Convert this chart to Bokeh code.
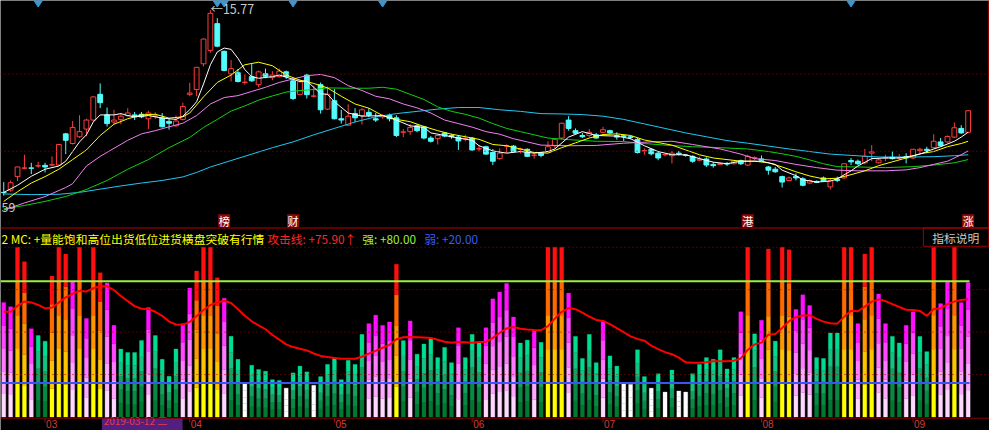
import numpy as np
from bokeh.plotting import figure
from bokeh.models import Range1d, Span
from bokeh.core.properties import value
from bokeh.embed import file_html
from bokeh.resources import INLINE

FONT = "Noto Sans CJK SC"
AXIS_FONT = "Liberation Sans"

# ---------------- daily candles (bar index 0 = 2019-02-21) ----------------
OPEN = [10.10, 10.17, 10.59, 10.85, 10.86, 10.92, 10.94, 10.95, 10.95, 11.92,
        11.62, 11.83, 12.07, 12.35, 13.15, 12.51, 12.29, 12.37, 12.49, 12.51,
        12.53, 12.39, 12.47, 12.42, 12.31, 12.17, 12.37, 13.15, 13.30, 14.10,
        14.52, 15.35, 14.49, 13.79, 13.82, 13.52, 13.70, 13.45, 13.79, 13.67,
        13.70, 13.85, 13.57, 13.15, 13.75, 13.09, 13.45, 12.69, 12.95, 12.39,
        12.19, 12.55, 12.49, 12.59, 12.39, 12.45, 12.49, 12.42, 11.97, 11.99,
        12.17, 12.14, 11.79, 11.77, 11.95, 11.87, 11.82, 11.77, 11.79, 11.45,
        11.52, 11.34, 11.15, 11.54, 11.54, 11.44, 11.44, 11.25, 11.32, 11.37,
        11.55, 11.79, 12.35, 12.02, 11.87, 11.87, 11.89, 11.97, 12.02, 11.87,
        11.86, 11.83, 11.75, 11.39, 11.44, 11.32, 11.27, 11.24, 11.32, 11.26,
        11.22, 11.10, 11.14, 10.97, 10.97, 11.00, 10.99, 11.09, 10.95, 11.17,
        11.14, 10.89, 10.82, 10.59, 10.47, 10.59, 10.52, 10.39, 10.44, 10.55,
        10.27, 10.51, 10.55, 11.09, 11.07, 11.02, 11.32, 11.02, 11.17, 11.19,
        11.17, 11.21, 11.17, 11.40, 11.44, 11.49, 11.67, 11.67, 11.82, 12.09,
        11.97]
HIGH = [10.42, 10.47, 10.90, 11.27, 11.02, 11.05, 11.02, 11.22, 11.59, 11.95,
        12.32, 12.50, 12.39, 13.09, 13.49, 12.74, 12.67, 12.57, 12.72, 12.60,
        12.60, 12.64, 12.59, 12.57, 12.39, 12.49, 12.89, 13.51, 14.00, 14.89,
        15.77, 15.52, 14.51, 14.22, 13.94, 13.77, 14.09, 13.89, 13.95, 13.87,
        13.95, 13.89, 13.64, 13.62, 13.79, 13.42, 13.52, 13.39, 13.32, 12.67,
        12.84, 12.72, 12.72, 12.72, 12.57, 12.53, 12.55, 12.50, 12.07, 12.22,
        12.22, 12.17, 11.85, 11.89, 11.97, 11.92, 11.87, 11.89, 11.82, 11.57,
        11.55, 11.45, 11.47, 11.59, 11.57, 11.49, 11.47, 11.32, 11.34, 11.69,
        11.77, 12.27, 12.47, 12.09, 11.95, 12.07, 11.95, 12.14, 12.05, 11.97,
        11.89, 11.87, 11.79, 11.47, 11.47, 11.37, 11.29, 11.39, 11.39, 11.29,
        11.25, 11.21, 11.19, 11.04, 11.02, 11.04, 11.09, 11.12, 11.27, 11.22,
        11.25, 10.92, 10.89, 10.62, 10.59, 10.69, 10.57, 10.50, 10.47, 10.59,
        10.52, 10.59, 11.00, 11.17, 11.12, 11.45, 11.57, 11.15, 11.27, 11.37,
        11.29, 11.32, 11.45, 11.49, 11.52, 11.91, 11.79, 11.87, 12.27, 12.19,
        12.65]
LOW = [10.00, 10.12, 10.45, 10.82, 10.67, 10.87, 10.72, 10.91, 10.92, 11.29,
       11.59, 11.79, 11.85, 12.32, 12.72, 12.15, 12.22, 12.22, 12.45, 12.35,
       12.41, 12.07, 12.39, 12.12, 12.05, 12.14, 12.34, 13.09, 13.09, 14.02,
       14.45, 14.62, 13.87, 13.55, 13.52, 13.45, 13.54, 13.37, 13.65, 13.59,
       13.67, 13.63, 12.97, 13.12, 13.02, 13.05, 12.55, 12.67, 12.37, 12.24,
       12.17, 12.29, 12.21, 12.44, 12.29, 12.39, 12.31, 11.82, 11.82, 11.89,
       11.97, 11.75, 11.65, 11.59, 11.82, 11.77, 11.42, 11.69, 11.39, 11.37,
       11.27, 10.95, 11.12, 11.32, 11.34, 11.31, 11.20, 11.15, 11.19, 11.35,
       11.47, 11.75, 12.02, 11.92, 11.79, 11.82, 11.77, 11.95, 11.92, 11.74,
       11.69, 11.75, 11.31, 11.27, 11.25, 11.10, 11.22, 11.00, 11.25, 11.21,
       11.02, 11.07, 10.89, 10.87, 10.95, 10.92, 10.97, 10.95, 10.92, 11.10,
       11.07, 10.65, 10.71, 10.25, 10.45, 10.47, 10.29, 10.35, 10.39, 10.42,
       10.19, 10.42, 10.52, 10.95, 10.95, 10.97, 11.07, 11.00, 11.07, 11.12,
       11.12, 11.00, 11.14, 11.32, 11.32, 11.47, 11.52, 11.65, 11.79, 11.92,
       11.95]
CLOSE = [10.09, 10.40, 10.89, 10.86, 10.85, 10.93, 10.89, 10.96, 11.59, 11.72,
         12.12, 11.99, 12.35, 13.07, 12.89, 12.24, 12.35, 12.47, 12.57, 12.45,
         12.45, 12.57, 12.48, 12.14, 12.25, 12.32, 12.77, 13.19, 13.99, 14.87,
         15.67, 14.65, 13.89, 13.95, 13.55, 13.53, 13.57, 13.85, 13.71, 13.75,
         13.87, 13.70, 13.02, 13.54, 13.14, 13.10, 12.67, 13.15, 12.39, 12.35,
         12.47, 12.42, 12.67, 12.50, 12.35, 12.47, 12.39, 11.87, 11.98, 12.12,
         12.02, 11.79, 11.69, 11.87, 11.85, 11.83, 11.70, 11.78, 11.42, 11.46,
         11.29, 11.07, 11.32, 11.55, 11.37, 11.45, 11.22, 11.26, 11.25, 11.52,
         11.75, 12.25, 12.09, 11.94, 11.83, 11.97, 11.79, 12.05, 11.95, 11.82,
         11.84, 11.81, 11.34, 11.40, 11.30, 11.17, 11.28, 11.32, 11.29, 11.25,
         11.07, 11.13, 10.95, 10.93, 11.00, 10.98, 11.07, 10.99, 11.22, 11.18,
         11.10, 10.79, 10.74, 10.42, 10.55, 10.55, 10.32, 10.47, 10.41, 10.45,
         10.47, 10.47, 10.99, 11.05, 10.99, 11.22, 11.36, 11.11, 11.18, 11.15,
         11.18, 11.17, 11.44, 11.44, 11.40, 11.69, 11.55, 11.84, 12.11, 11.95,
         12.64]

# ---------------- moving averages (bar index, price) ----------------
MA5_X = [0, 2, 4, 6, 8, 9, 10, 11, 12, 13, 14, 16, 17, 18, 19, 21, 23, 25, 26, 27,
         28, 29, 30, 31, 32, 33, 34, 35, 36, 37, 39, 40, 42, 43, 44, 45, 46, 47, 48, 50,
         52, 55, 57, 59, 61, 62, 64, 66, 68, 69, 71, 73, 75, 77, 79, 80, 82, 84, 86, 89,
         91, 93, 95, 97, 99, 101, 103, 105, 107, 110, 112, 113, 115, 116, 118, 120, 121,
         123, 124, 126, 128, 130, 132, 133, 135, 136, 138, 139, 140]
MA5_Y = [10.10, 10.32, 10.60, 10.82, 10.92, 11.07, 11.37, 11.67, 11.89, 12.29, 12.51,
         12.51, 12.55, 12.49, 12.45, 12.49, 12.41, 12.37, 12.47, 12.67, 12.92, 13.47,
         14.07, 14.47, 14.59, 14.55, 14.27, 13.92, 13.70, 13.65, 13.70, 13.75, 13.62,
         13.55, 13.57, 13.37, 13.17, 13.15, 12.92, 12.57, 12.47, 12.49, 12.35, 12.17,
         12.12, 11.95, 11.87, 11.79, 11.72, 11.55, 11.39, 11.32, 11.37, 11.32, 11.37,
         11.45, 11.82, 11.99, 11.87, 11.85, 11.77, 11.55, 11.37, 11.27, 11.27, 11.15,
         11.04, 10.99, 11.07, 11.07, 10.97, 10.79, 10.62, 10.49, 10.42, 10.45, 10.52,
         10.77, 10.92, 11.15, 11.17, 11.17, 11.24, 11.29, 11.45, 11.52, 11.69, 11.82,
         11.97]
MA10_X = [0, 2, 4, 6, 8, 10, 12, 14, 16, 18, 20, 22, 24, 26, 27, 29, 31, 33, 35, 37,
          39, 41, 43, 45, 47, 49, 51, 53, 55, 57, 59, 61, 63, 65, 67, 69, 71, 73, 75, 77,
          79, 81, 83, 85, 87, 89, 91, 93, 95, 97, 99, 101, 103, 105, 107, 109, 111, 113,
          115, 117, 119, 121, 123, 125, 127, 129, 131, 133, 135, 137, 139, 140]
MA10_Y = [9.82, 10.12, 10.39, 10.59, 10.82, 11.12, 11.42, 11.87, 12.22, 12.39, 12.51,
          12.53, 12.41, 12.45, 12.57, 13.07, 13.52, 13.75, 14.07, 14.15, 14.04, 13.75,
          13.59, 13.49, 13.35, 13.09, 12.85, 12.72, 12.49, 12.37, 12.30, 12.15, 12.02,
          11.91, 11.83, 11.75, 11.59, 11.55, 11.45, 11.34, 11.32, 11.49, 11.64, 11.79,
          11.90, 11.92, 11.87, 11.73, 11.65, 11.57, 11.42, 11.27, 11.17, 11.12, 11.07,
          11.07, 11.02, 10.89, 10.74, 10.61, 10.52, 10.54, 10.65, 10.77, 10.93, 11.05,
          11.17, 11.30, 11.37, 11.52, 11.62, 11.69]
MA20_X = [0, 3, 6, 9, 10, 12, 14, 16, 18, 20, 22, 24, 26, 28, 30, 32, 34, 36, 38, 40,
          42, 44, 46, 48, 50, 52, 54, 56, 58, 60, 62, 64, 66, 68, 70, 72, 74, 76, 78, 82,
          86, 90, 94, 97, 100, 104, 107, 109, 112, 115, 118, 121, 124, 128, 131, 133,
          135, 137, 139, 140]
MA20_Y = [9.55, 9.77, 9.97, 10.25, 10.37, 10.92, 11.22, 11.47, 11.72, 11.92, 12.02,
          12.14, 12.25, 12.49, 12.85, 13.05, 13.11, 13.24, 13.37, 13.52, 13.63, 13.73,
          13.77, 13.67, 13.42, 13.27, 13.09, 13.01, 12.85, 12.73, 12.57, 12.35, 12.24,
          12.13, 11.99, 11.91, 11.77, 11.67, 11.57, 11.55, 11.56, 11.63, 11.67, 11.69,
          11.59, 11.45, 11.29, 11.15, 11.09, 10.97, 10.87, 10.79, 10.77, 10.77, 10.80,
          10.87, 10.97, 11.07, 11.27, 11.39]
MA30_X = [0, 3, 6, 9, 12, 15, 18, 21, 24, 27, 29, 31, 33, 35, 37, 39, 41, 43, 45, 47,
          50, 53, 55, 57, 59, 61, 63, 65, 67, 69, 71, 73, 75, 77, 79, 82, 86, 90, 93, 96,
          100, 104, 108, 111, 113, 115, 117, 119, 121, 124, 128, 132, 135, 138, 140]
MA30_Y = [9.59, 9.69, 9.82, 9.97, 10.19, 10.47, 10.82, 11.12, 11.49, 11.81, 12.12,
          12.37, 12.63, 12.79, 12.97, 13.10, 13.22, 13.27, 13.30, 13.35, 13.34, 13.34,
          13.37, 13.31, 13.15, 12.99, 12.76, 12.62, 12.53, 12.41, 12.24, 12.09, 11.99,
          11.89, 11.79, 11.74, 11.69, 11.68, 11.62, 11.57, 11.52, 11.49, 11.45, 11.37,
          11.30, 11.22, 11.11, 10.99, 10.90, 10.89, 10.87, 10.90, 10.95, 11.02, 11.12]
MA60_X = [0, 4, 8, 11, 14, 17, 20, 23, 26, 28, 30, 33, 36, 39, 42, 45, 48, 51, 54, 57,
          60, 63, 66, 69, 72, 75, 78, 81, 84, 87, 90, 93, 96, 99, 102, 105, 108, 111,
          114, 117, 120, 123, 127, 131, 135, 138, 140]
MA60_Y = [10.05, 10.03, 10.04, 10.10, 10.20, 10.30, 10.39, 10.47, 10.58, 10.72, 10.89,
          11.09, 11.29, 11.49, 11.67, 11.89, 12.09, 12.29, 12.45, 12.55, 12.62, 12.69,
          12.74, 12.74, 12.67, 12.62, 12.55, 12.54, 12.52, 12.47, 12.37, 12.23, 12.09,
          11.95, 11.83, 11.71, 11.63, 11.54, 11.45, 11.37, 11.29, 11.25, 11.20, 11.20,
          11.21, 11.24, 11.27]

# ---------------- indicator panel ----------------
VOL = [67.4, 65.0, 100, 91.5, 52.0, 48.0, 44.7, 83.0, 100, 96.0,
       79.5, 100, 58.0, 100, 85.0, 79.0, 54.0, 40.0, 38.0, 38.0,
       45.0, 64.5, 48.0, 34.0, 24.0, 40.0, 55.0, 76.0, 86.0, 100,
       100, 82.0, 70.0, 47.5, 34.0, 19.5, 30.5, 28.0, 27.0, 22.0,
       21.5, 17.0, 26.0, 30.0, 26.6, 18.7, 23.8, 31.0, 34.5, 22.0,
       33.4, 31.0, 48.7, 55.0, 60.0, 54.0, 56.0, 90.0, 45.0, 56.6,
       37.0, 43.0, 46.0, 35.0, 41.0, 32.0, 52.6, 35.0, 48.7, 43.6,
       52.6, 69.6, 73.6, 78.7, 58.9, 43.6, 45.3, 51.0, 44.0, 100,
       100, 100, 73.0, 47.5, 34.5, 48.7, 32.0, 56.6, 36.0, 30.0,
       19.5, 19.2, 39.6, 23.8, 17.0, 25.5, 14.7, 27.7, 15.3, 14.7,
       25.5, 31.0, 35.0, 34.0, 39.6, 28.3, 35.0, 62.0, 100, 49.0,
       57.0, 99.0, 44.7, 100, 98.5, 63.4, 72.0, 65.7, 35.0, 34.5,
       49.5, 49.5, 100, 100, 55.0, 96.0, 100, 72.5, 55.0, 47.5,
       43.6, 54.0, 62.0, 47.5, 38.5, 100, 66.8, 79.5, 100, 67.4,
       79.2]
ATTACK = [62.0, 62.0, 65.5, 68.0, 67.5, 66.0, 64.0, 64.5, 67.5, 70.5,
          72.6, 74.3, 74.0, 75.9, 77.0, 77.0, 74.8, 71.3, 68.3, 65.3,
          63.8, 63.6, 62.0, 59.6, 56.2, 54.5, 54.3, 56.0, 59.5, 63.0,
          66.0, 67.5, 68.5, 67.2, 63.5, 59.6, 56.4, 54.0, 51.7, 48.3,
          45.6, 42.8, 41.2, 40.2, 39.2, 37.4, 36.0, 35.3, 34.8, 34.3,
          34.3, 34.3, 35.5, 37.3, 39.0, 40.8, 42.5, 45.8, 47.0, 47.2,
          47.0, 46.8, 46.5, 45.5, 44.3, 43.7, 44.2, 44.0, 43.8, 44.2,
          44.3, 46.6, 49.5, 52.2, 53.0, 52.0, 51.6, 51.3, 51.1, 53.5,
          58.0, 62.0, 64.2, 63.5, 61.5, 59.2, 57.2, 56.6, 54.7, 52.3,
          50.0, 47.5, 46.0, 45.0, 42.0, 40.0, 38.2, 37.0, 35.0, 32.2,
          32.0, 32.0, 32.3, 32.8, 32.8, 32.8, 33.2, 34.5, 39.5, 42.8,
          43.8, 48.5, 48.9, 52.5, 56.5, 58.8, 59.8, 60.0, 57.8, 56.2,
          55.2, 55.0, 59.0, 62.6, 62.3, 65.0, 68.0, 69.3, 68.3, 66.5,
          64.8, 63.2, 63.0, 62.5, 59.6, 63.6, 64.0, 66.5, 68.0, 69.0,
          69.4]
STRONG = 80.0
WEAK = 20.0

MONTH_TICKS = [6, 27, 48, 68, 87, 110, 132]
MONTH_LABELS = ["03", "04", "05", "06", "07", "08", "09"]
CURSOR_LABEL = "2019-03-12 二"
HEADER_NAME = "2 MC: +量能饱和高位出货低位进货横盘突破有行情"
HEADER_ATTACK = "攻击线: +75.90↑"
HEADER_STRONG = "强: +80.00"
HEADER_WEAK = "弱: +20.00"
HELP_TEXT = "指标说明"
EVENT_IDX = [32, 42, 108, 140]
EVENT_TEXT = ["榜", "财", "港", "涨"]
MINE_IDX = [5, 31, 32, 42, 55, 123]
HIGH_IDX, HIGH_TEXT = 30, "←15.77"
LOW_TEXT = "59"

# ---------------- colours ----------------
RED = "#FF3C3C"
CYAN = "#54FCFC"
GRID = "#A00000"
PAL_RED = ["#FFFF00", "#FFC400", "#FF9800", "#FF6A00", "#FF1010"]
PAL_MAG = ["#FFD8FF", "#FFA8FF", "#FF7CFF", "#FF48FF", "#FF10FF"]
PAL_GRN = ["#007A32", "#088A46", "#16A060", "#14C282", "#00DC90"]
PAL_WHT = ["#FFFFFF"] * 5

# ---------------- scales ----------------
X0, X1 = -0.471, 143.1
P_BOT, P_TOP = 2.69, 16.07          # price scale of upper panel
I_BOT, I_TOP = -7.96, 245.4         # indicator scale of lower panel
P_BORDER = 8.99                     # bottom edge of upper panel
P_GRID = [13.78, 11.38]
I_GRID = [100, 75, 50, 25]
I_BASE = -0.7
I_LABEL = -6.3                      # bottom of the date labels

p = figure(width=989, height=430, x_range=Range1d(X0, X1), y_range=Range1d(P_BOT, P_TOP),
           x_axis_type=None, y_axis_type=None, output_backend="svg", toolbar_location=None,
           background_fill_color="black", border_fill_color="black", min_border=0,
           outline_line_color=None)
p.min_border_left = p.min_border_right = p.min_border_top = p.min_border_bottom = 0
p.extra_y_ranges = {"ind": Range1d(I_BOT, I_TOP)}

# grid lines
for g in P_GRID:
    p.add_layout(Span(location=g, dimension="width", line_color=GRID, line_dash="1 3", line_width=1))
for g in I_GRID:
    p.add_layout(Span(location=g, dimension="width", line_color=GRID, line_dash="1 3", line_width=1,
                      y_range_name="ind"))
p.add_layout(Span(location=P_BORDER, dimension="width", line_color="#B00000", line_width=1))
p.add_layout(Span(location=I_BASE, dimension="width", line_color="#900000", line_width=1,
                  y_range_name="ind"))
p.segment(x0=[X1 - 0.12], y0=[P_BORDER], x1=[X1 - 0.12], y1=[P_TOP], line_color="#B00000", line_width=1)

# ---------------- candles ----------------
o, h, l, c = (np.array(a) for a in (OPEN, HIGH, LOW, CLOSE))
idx = np.arange(len(o))
up = c >= o
p.segment(x0=idx, y0=h, x1=idx, y1=l, line_color=np.where(up, RED, CYAN).tolist(), line_width=1)
top_b, bot_b = np.maximum(o, c), np.minimum(o, c)
p.vbar(x=idx[up], top=top_b[up], bottom=bot_b[up], width=0.7, fill_color="black",
       line_color=RED, line_width=1)
p.vbar(x=idx[~up], top=top_b[~up], bottom=bot_b[~up], width=0.7, fill_color=CYAN,
       line_color=CYAN, line_width=1)

# moving averages
for xs, ys, col in [(MA60_X, MA60_Y, "#20C8F0"), (MA30_X, MA30_Y, "#10D010"),
                    (MA20_X, MA20_Y, "#F080F0"), (MA10_X, MA10_Y, "#FFFF00"),
                    (MA5_X, MA5_Y, "#FFFFFF")]:
    p.line(xs, ys, line_color=col, line_width=1)

# markers and labels of upper panel
p.scatter(x=MINE_IDX, y=[P_TOP] * len(MINE_IDX), marker="diamond", size=13,
          fill_color="#3C96D2", line_color="#3C96D2")
p.rect(x=EVENT_IDX, y=[9.22] * len(EVENT_IDX), width=12, height=13, width_units="screen",
       height_units="screen", fill_color="#8C0A0A", line_color=None)
p.text(x=EVENT_IDX, y=[9.22] * len(EVENT_IDX), text=EVENT_TEXT, text_color="white",
       text_font=value(FONT), text_font_size="11px", text_align="center", text_baseline="middle")
p.text(x=[HIGH_IDX], y=[HIGH[HIGH_IDX] + 0.04], text=[HIGH_TEXT], text_color="#C8C8C8",
       text_font=value(FONT), text_font_size="12.5px", text_align="left", text_baseline="middle")
p.text(x=[X0], y=[9.65], text=[LOW_TEXT], text_color="#C8C8C8", x_offset=1,
       text_font=value(FONT), text_font_size="12.5px", text_align="left", text_baseline="middle")

# ---------------- indicator bars ----------------
vol = np.array(VOL)
vidx = np.arange(len(vol))


def scheme(v):
    if v >= 80:
        return PAL_RED
    if v >= 50:
        return PAL_MAG
    if v >= 20:
        return PAL_GRN
    return PAL_WHT


for k in range(5):
    cols = [scheme(v)[k] for v in vol]
    p.vbar(x=vidx, bottom=vol * k / 5, top=vol * (k + 1) / 5, width=0.58, fill_color=cols,
           line_color=cols, line_width=0.3, y_range_name="ind")

p.segment(x0=[X0], y0=[STRONG], x1=[vidx[-1] + 0.2], y1=[STRONG], line_color="#9CF03C",
          line_width=2, y_range_name="ind")
p.segment(x0=[X0], y0=[WEAK], x1=[vidx[-1] + 0.2], y1=[WEAK], line_color="#3A55F5",
          line_width=2, y_range_name="ind")
p.line(vidx, ATTACK, line_color="#FF0000", line_width=2, y_range_name="ind")

# header line
hy = 105.1
for xx, txt, col in [(X0, HEADER_NAME, "#FFFF00"), (38.1, HEADER_ATTACK, "#FF2828"),
                     (51.9, HEADER_STRONG, "#9CF03C"), (60.9, HEADER_WEAK, "#3A5CF5")]:
    p.text(x=[xx], y=[hy], text=[txt], text_color=col, text_font=value(FONT), x_offset=1,
           text_font_size="11.8px", text_align="left", text_baseline="middle", y_range_name="ind")
p.quad(left=[133.5], right=[143.0], top=[111.4], bottom=[100.6], fill_color="black",
       line_color="#A00000", line_width=1, y_range_name="ind")
p.text(x=[138.2], y=[106.0], text=[HELP_TEXT], text_color="#C8C8C8", text_font=value(FONT),
       text_font_size="11.8px", text_align="center", text_baseline="middle", y_range_name="ind")

# date axis
p.segment(x0=MONTH_TICKS, y0=[I_BASE] * 7, x1=MONTH_TICKS, y1=[-3.2] * 7, line_color="#C00000",
          line_width=1, y_range_name="ind")
p.quad(left=[14.24], right=[25.96], top=[I_BASE], bottom=[I_BOT], fill_color="#53207F",
       line_color=None, y_range_name="ind")
p.text(x=[14.5], y=[I_LABEL], text=[CURSOR_LABEL], text_color="#E03C50",
       text_font=value(FONT), text_font_size="10px", text_align="left",
       text_baseline="bottom", y_range_name="ind")
p.text(x=MONTH_TICKS, y=[I_LABEL] * 7, text=MONTH_LABELS, text_color="#D43C3C",
       text_font=value(AXIS_FONT), text_font_size="10px", text_align="left",
       text_baseline="bottom", x_offset=1, y_range_name="ind")

open("out.html", "w").write(file_html(p, INLINE))
